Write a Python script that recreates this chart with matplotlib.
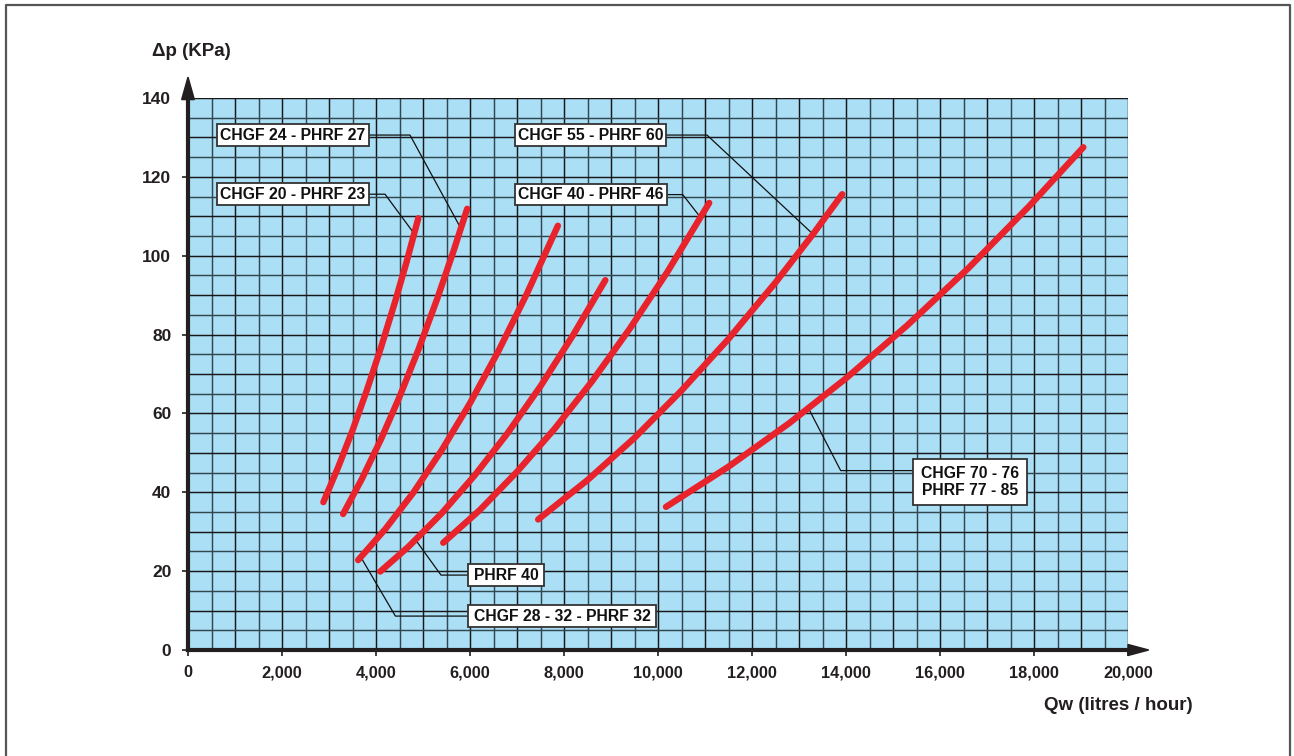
import numpy as np
import matplotlib.pyplot as plt
from matplotlib.patches import Rectangle, Polygon
from matplotlib.lines import Line2D

plt.rcParams['font.family'] = ['Liberation Sans', 'DejaVu Sans']
plt.rcParams['font.weight'] = 'bold'

# --- data (Qw in l/h, dp in kPa) ---
q_chgf20 = [2880, 3200, 3500, 3800, 4100, 4400, 4650, 4900]
dp_chgf20 = [37.5, 46.5, 55.7, 65.7, 76.5, 88.1, 98.4, 109.5]

q_chgf24 = [3300, 3700, 4100, 4500, 4900, 5300, 5650, 5940]
dp_chgf24 = [34.5, 43.4, 53.3, 64.2, 76.1, 89.0, 101.2, 111.9]

q_chgf28 = [3620, 4200, 4800, 5400, 6000, 6600, 7200, 7870]
dp_chgf28 = [22.8, 30.7, 40.0, 50.7, 62.6, 75.7, 90.1, 107.6]

q_phrf40 = [4090, 4700, 5400, 6100, 6800, 7500, 8200, 8880]
dp_phrf40 = [19.9, 26.3, 34.7, 44.3, 55.0, 66.9, 80.0, 93.8]

q_chgf40 = [5430, 6200, 7000, 7800, 8600, 9400, 10200, 11090]
dp_chgf40 = [27.2, 35.4, 45.2, 56.1, 68.2, 81.5, 95.9, 113.4]

q_chgf55 = [7450, 8500, 9500, 10500, 11500, 12500, 13300, 13920]
dp_chgf55 = [33.1, 43.1, 53.8, 65.8, 78.9, 93.2, 105.5, 115.6]

q_chgf70 = [10170, 11500, 12800, 14000, 15300, 16600, 17900, 19050]
dp_chgf70 = [36.3, 46.5, 57.6, 68.9, 82.3, 96.8, 112.6, 127.5]

x_ticks = [0, 2000, 4000, 6000, 8000, 10000, 12000, 14000, 16000, 18000, 20000]
x_labels = ['0', '2,000', '4,000', '6,000', '8,000', '10,000', '12,000',
            '14,000', '16,000', '18,000', '20,000']
y_ticks = [0, 20, 40, 60, 80, 100, 120, 140]

curves = [
    (q_chgf20, dp_chgf20), (q_chgf24, dp_chgf24), (q_chgf28, dp_chgf28),
    (q_phrf40, dp_phrf40), (q_chgf40, dp_chgf40), (q_chgf55, dp_chgf55),
    (q_chgf70, dp_chgf70),
]

# label boxes: text, box (x0, x1, y0, y1), leader polyline
labels = [
    ('CHGF 24 - PHRF 27', (617, 3851, 127.8, 133.4),
     [(3851, 130.6), (4723, 130.6), (5766, 107.8)]),
    ('CHGF 20 - PHRF 23', (617, 3851, 112.9, 118.4),
     [(3851, 115.6), (4192, 115.6), (4787, 106.0)]),
    ('CHGF 55 - PHRF 60', (6957, 10170, 127.8, 133.4),
     [(10170, 130.6), (11043, 130.6), (13277, 105.7)]),
    ('CHGF 40 - PHRF 46', (6957, 10191, 112.9, 118.2),
     [(10191, 115.5), (10526, 115.5), (10879, 110.1)]),
    ('PHRF 40', (5957, 7574, 16.2, 21.8),
     [(5957, 19.0), (5383, 19.0), (4868, 27.5)]),
    ('CHGF 28 - 32 - PHRF 32', (5957, 9957, 5.8, 11.4),
     [(5957, 8.6), (4413, 8.6), (3704, 23.0)]),
    ('CHGF 70 - 76\nPHRF 77 - 85', (15426, 17851, 36.8, 48.4),
     [(15426, 45.5), (13887, 45.5), (13219, 60.9)]),
]

W, H = 1294, 756
fig = plt.figure(figsize=(W / 100, H / 100), dpi=100)
ax = fig.add_axes([188 / W, 1 - 650 / H, 940 / W, 552 / H])
ax.set_xlim(0, 20000)
ax.set_ylim(0, 140)
ax.set_facecolor('#AADFF6')

# grid: 500 l/h and 5 kPa steps, thousand lines a bit darker
for i, gx in enumerate(np.arange(500, 20001, 500)):
    c = '#181818' if i % 2 else '#33474f'
    ax.plot([gx, gx], [0, 140], color=c, lw=1.05, zorder=1)
for i, gy in enumerate(np.arange(5, 141, 5)):
    c = '#181818' if i % 2 else '#33474f'
    ax.plot([0, 20000], [gy, gy], color=c, lw=1.05, zorder=1)

for text, (x0, x1, y0, y1), leader in labels:
    lx, ly = zip(*leader)
    ax.plot(lx, ly, color='#111111', lw=0.9, zorder=2)
    ax.add_patch(Rectangle((x0, y0), x1 - x0, y1 - y0, facecolor='white',
                           edgecolor='#333333', lw=1.3, zorder=4))
    ax.text((x0 + x1) / 2, (y0 + y1) / 2, text, ha='center', va='center',
            fontsize=11.3, fontweight='bold', color='#111111',
            linespacing=1.15, zorder=5)

for q, dp in curves:
    ax.plot(q, dp, color='#E8232B', lw=4.6, solid_capstyle='round',
            solid_joinstyle='round', zorder=3)

for side in ['top', 'right']:
    ax.spines[side].set_visible(False)
for side in ['left', 'bottom']:
    ax.spines[side].set_linewidth(3)
    ax.spines[side].set_color('#231F20')
    ax.spines[side].set_zorder(6)

# axis arrows
ax.add_patch(Polygon([(-135, 139.6), (135, 139.6), (0, 145.3)], closed=True,
                     color='#231F20', clip_on=False, zorder=6))
ax.add_patch(Polygon([(20000, -1.4), (20000, 1.4), (20440, 0)], closed=True,
                     color='#231F20', clip_on=False, zorder=6))

ax.set_xticks(x_ticks)
ax.set_xticklabels(x_labels)
ax.set_yticks(y_ticks)
ax.tick_params(axis='x', direction='out', length=4, width=1.2, pad=7,
               labelsize=11.8, colors='#231F20')
ax.tick_params(axis='y', direction='out', length=4, width=1.2, pad=8,
               labelsize=12.5, colors='#231F20')
for lab in ax.get_xticklabels() + ax.get_yticklabels():
    lab.set_fontweight('bold')

fig.text(152 / W, 1 - 52 / H, '\u0394p (KPa)', ha='left', va='center',
         fontsize=13.5, fontweight='bold', color='#231F20')
fig.text(1193 / W, 1 - 705 / H, 'Qw (litres / hour)', ha='right', va='center',
         fontsize=13.5, fontweight='bold', color='#231F20')

# outer frame (left, top, right)
fig.add_artist(Line2D([6 / W, 6 / W, 1290 / W, 1290 / W],
                      [0, 1 - 5 / H, 1 - 5 / H, 0],
                      transform=fig.transFigure, color='#555555', lw=1.6))

fig.savefig('out.png', dpi=100)
